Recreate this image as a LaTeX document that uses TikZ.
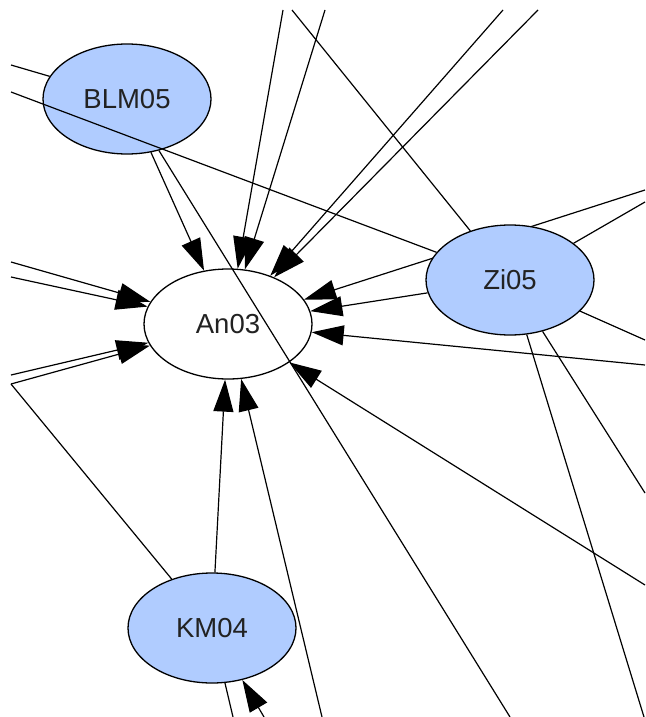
\documentclass[tikz,border=0pt]{standalone}
\usepackage{fontspec}
\setmainfont{Liberation Sans}
\usetikzlibrary{arrows.meta,shapes.geometric}

\definecolor{paperblue}{RGB}{176,204,255}
\definecolor{labelgray}{RGB}{34,34,34}

\tikzset{
  paper/.style={ellipse, draw=black, line width=1.3pt, inner sep=0pt,
    minimum width=168pt, minimum height=110pt, text=labelgray,
    font=\fontsize{27.5}{30}\selectfont},
  cited/.style={paper, fill=white},
  citing/.style={paper, fill=paperblue},
  link/.style={line width=1.2pt, black},
  cite/.style={link, -{Triangle[length=32pt,width=20pt]}}
}

\begin{document}
\begin{tikzpicture}[x=1pt,y=-1pt]
\useasboundingbox (0,0) rectangle (645,717);

% free ends of edges that leave the visible area
\coordinate (tA) at (283,10);
\coordinate (tB) at (325,10);
\coordinate (tC) at (292,10);
\coordinate (tD) at (503,10);
\coordinate (tE) at (538,10);
\coordinate (lA) at (11,262);
\coordinate (lB) at (11,277);
\coordinate (lC) at (11,375);
\coordinate (lD) at (11,384);
\coordinate (lE) at (11,65);
\coordinate (lF) at (11,92);
\coordinate (rA) at (645,190);
\coordinate (rB) at (645,202);
\coordinate (rC) at (645,340);
\coordinate (rD) at (645,365);
\coordinate (rE) at (645,585);
\coordinate (rF) at (645,493);
\coordinate (bA) at (644,717);
\coordinate (bB) at (510,717);
\coordinate (bC) at (322,717);
\coordinate (bD) at (233,717);
\coordinate (bE) at (264,717);

% papers
\node[cited]  (An03)  at (228,324) {An03};
\node[citing] (BLM05) at (127,99)  {BLM05};
\node[citing] (KM04)  at (212,628) {KM04};

% this edge runs underneath Zi05
\draw[cite] (rA) -- (An03);

\node[citing] (Zi05)  at (510,280) {Zi05};

% citations into An03
\draw[cite] (tA) -- (An03);
\draw[cite] (tB) -- (An03);
\draw[cite] (tD) -- (An03);
\draw[cite] (tE) -- (An03);
\draw[cite] (lA) -- (An03);
\draw[cite] (lB) -- (An03);
\draw[cite] (lC) -- (An03);
\draw[cite] (lD) -- (An03);
\draw[cite] (rD) -- (An03);
\draw[cite] (rE) -- (An03);
\draw[cite] (bC) -- (An03);
\draw[cite] (BLM05) -- (An03);
\draw[cite] (Zi05) -- (An03);
\draw[cite] (KM04) -- (An03);

% citation into KM04
\draw[cite] (bE) -- (KM04);

% other links
\draw[link] (lE) -- (BLM05);
\draw[link] (lF) -- (Zi05);
\draw[link] (BLM05) -- (bB);
\draw[link] (tC) -- (Zi05);
\draw[link] (Zi05) -- (rB);
\draw[link] (Zi05) -- (rC);
\draw[link] (Zi05) -- (rF);
\draw[link] (Zi05) -- (bA);
\draw[link] (lD) -- (KM04);
\draw[link] (KM04) -- (bD);
\end{tikzpicture}
\end{document}
